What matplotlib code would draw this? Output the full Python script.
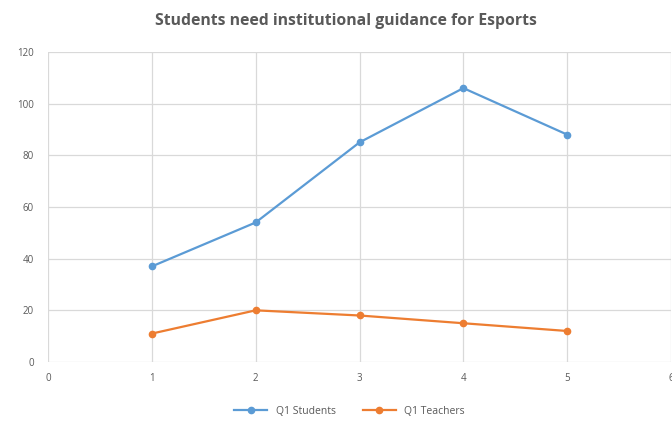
import matplotlib
matplotlib.use("Agg")
import matplotlib.pyplot as plt

x_values = [1, 2, 3, 4, 5]
students = [37, 54, 85, 106, 88]
teachers = [11, 20, 18, 15, 12]
x_ticks = [0, 1, 2, 3, 4, 5, 6]
y_ticks = [0, 20, 40, 60, 80, 100, 120]
title = "Students need institutional guidance for Esports"
labels = ["Q1 Students", "Q1 Teachers"]

plt.rcParams["font.family"] = ["Open Sans", "DejaVu Sans"]
text_grey = "#595959"
grid_grey = "#d9d9d9"

fig = plt.figure(figsize=(6.72, 4.23), dpi=100)
ax = fig.add_axes([0.0714, 0.1442, 0.9272, 0.7330])

ax.plot(x_values, students, color="#5b9bd5", lw=1.6, marker="o", ms=4.5,
        label=labels[0], zorder=3)
ax.plot(x_values, teachers, color="#ed7d31", lw=1.6, marker="o", ms=4.5,
        label=labels[1], zorder=3)

ax.set_xlim(0, 6)
ax.set_ylim(0, 120)
ax.set_xticks(x_ticks)
ax.set_yticks(y_ticks)
ax.grid(True, color=grid_grey, lw=0.9)
ax.set_axisbelow(True)
for s in ax.spines.values():
    s.set_visible(False)
ax.tick_params(length=0, labelsize=7, colors=text_grey, pad=8)
ax.tick_params(axis="y", pad=10)

fig.text(0.515, 0.950, title, ha="center", va="center", fontsize=11.3,
         fontweight="bold", color=text_grey)

leg = fig.legend(loc="center", bbox_to_anchor=(0.52, 0.027), ncol=2,
                 frameon=False, fontsize=7.5, handlelength=3.2,
                 columnspacing=2.6, labelcolor=text_grey)

fig.savefig("out.png", dpi=100, facecolor="white")
